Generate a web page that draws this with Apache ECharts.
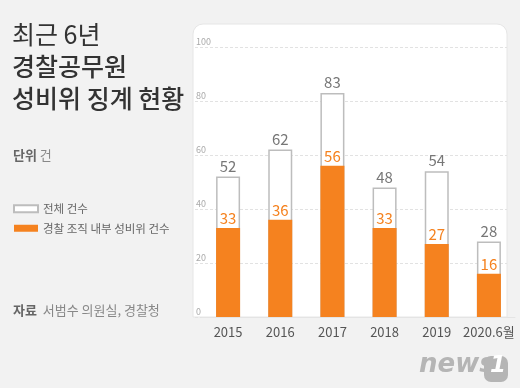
<!DOCTYPE html>
<html><head><meta charset="utf-8">
<script src="https://cdn.jsdelivr.net/npm/echarts@6/dist/echarts.min.js"></script>
<style>html,body{margin:0;padding:0;background:#f2f2f2;}#c{width:520px;height:388px;}</style>
</head><body><div id="c"></div>
<script>
var categories = ['2015', '2016', '2017', '2018', '2019', '2020.6월'];
var totalCases = [52, 62, 83, 48, 54, 28];
var internalCases = [33, 36, 56, 33, 27, 16];
var seriesNames = ['전체 건수', '경찰 조직 내부 성비위 건수'];
var yTicks = [0, 20, 40, 60, 80, 100];

var FONT = '"Noto Sans CJK KR", "Noto Sans", sans-serif';
var ORANGE = '#f5821f';
var chart = echarts.init(document.getElementById('c'), null, {renderer: 'canvas'});
chart.setOption({
  backgroundColor: '#f2f2f2',
  textStyle: {fontFamily: FONT},
  animation: false,
  graphic: [
    {type: 'rect', z: -10, shape: {x: 193, y: 24, width: 314, height: 293, r: [10, 10, 0, 0]},
     style: {fill: '#ffffff', stroke: '#e6e6e6', lineWidth: 1}},
    {type: 'text', left: 12, top: 22, style: {text: '최근 6년', font: '25px ' + FONT, fill: '#333'}},
    {type: 'text', left: 12, top: 54, style: {text: '경찰공무원', font: '500 25px ' + FONT, fill: '#333'}},
    {type: 'text', left: 12, top: 86, style: {text: '성비위 징계 현황', font: '500 25px ' + FONT, fill: '#333'}},
    {type: 'text', left: 13, top: 149, style: {text: '{b|단위} 건', rich: {b: {fontWeight: 'bold', fill: '#666', fontSize: 13, fontFamily: FONT}}, font: '13px ' + FONT, fill: '#888'}},
    {type: 'text', left: 13, top: 304, style: {text: '{b|자료}  서범수 의원실, 경찰청', rich: {b: {fontWeight: 'bold', fill: '#666', fontSize: 13, fontFamily: FONT}}, font: '13px ' + FONT, fill: '#888'}},
    {type: 'text', left: 419, top: 352, style: {text: 'news', font: 'italic bold 26px "DejaVu Sans", sans-serif', fill: '#b5b5b5'}},
    {type: 'rect', left: 484, top: 356, shape: {width: 24, height: 26, r: 7}, style: {fill: '#b5b5b5'}},
    {type: 'text', left: 490, top: 355, style: {text: '1', font: 'italic bold 23px "DejaVu Sans", sans-serif', fill: '#ffffff'}}
  ],
  legend: {
    orient: 'vertical', left: 13, top: 203, padding: 0, itemWidth: 24, itemHeight: 7, itemGap: 8,
    icon: 'rect',
    data: seriesNames,
    textStyle: {fontSize: 11.5, color: '#666', fontFamily: FONT}
  },
  grid: [
    {left: 202, right: 5, top: 47, bottom: 71},
    {left: 195, right: 13, top: 47, bottom: 71}
  ],
  xAxis: [
    {type: 'category', gridIndex: 0, data: categories,
     axisLine: {show: true, lineStyle: {color: '#e4e4e4'}}, axisTick: {show: false},
     axisLabel: {interval: 0, color: '#555', fontSize: 13, margin: 9, fontFamily: FONT}},
    {type: 'category', gridIndex: 1, data: categories, show: false}
  ],
  yAxis: [
    {type: 'value', gridIndex: 0, min: 0, max: 100, interval: 20, show: false, splitLine: {show: false}},
    {type: 'value', gridIndex: 1, min: yTicks[0], max: yTicks[yTicks.length - 1], interval: 20,
     axisLine: {show: false}, axisTick: {show: false},
     splitLine: {show: true, lineStyle: {color: '#e2e2e2', type: [3, 2]}},
     axisLabel: {inside: true, margin: 1, verticalAlign: 'bottom', padding: [0, 0, 1, 0], color: '#aaa', fontSize: 9, fontFamily: FONT}}
  ],
  series: [
    {name: seriesNames[0], type: 'bar', xAxisIndex: 0, yAxisIndex: 0, data: totalCases, barWidth: 24, barGap: '-100%',
     itemStyle: {color: '#ffffff', borderColor: '#bdbdbd', borderWidth: 1.5},
     label: {show: true, position: 'top', distance: 3, color: '#777', fontSize: 15, fontFamily: FONT}},
    {name: seriesNames[1], type: 'bar', xAxisIndex: 0, yAxisIndex: 0, data: internalCases, barWidth: 24, barGap: '-100%',
     itemStyle: {color: ORANGE},
     label: {show: true, position: 'top', distance: 2, color: ORANGE, fontSize: 15, fontFamily: FONT}}
  ]
});
</script></body></html>
